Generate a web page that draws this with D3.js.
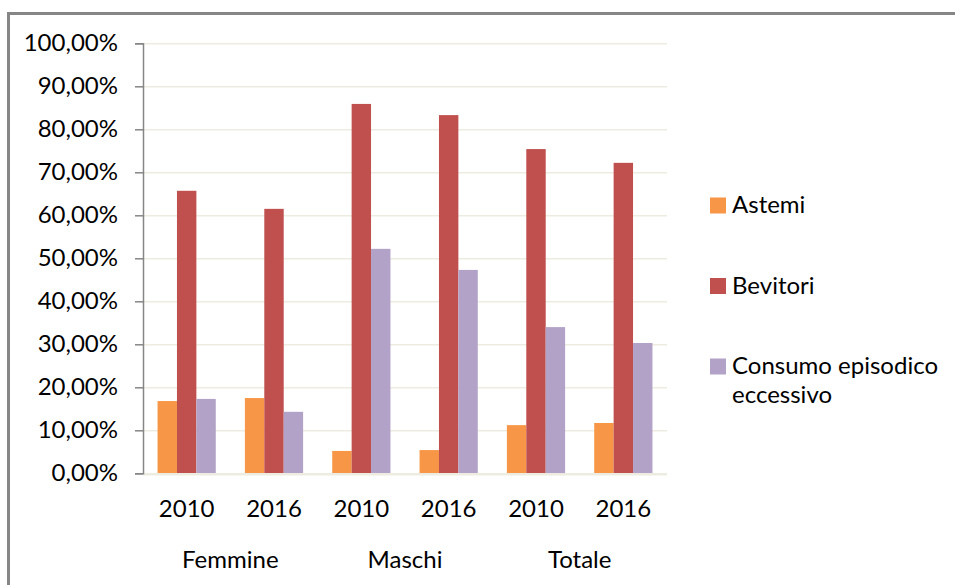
<!DOCTYPE html>
<html>
<head>
<meta charset="utf-8">
<script src="https://cdn.jsdelivr.net/npm/d3@7"></script>
<style>
    body { margin: 0; background: #fff; }
    svg { display: block; }
    text { font-family: Lato, "Open Sans", sans-serif; fill: #000; }
</style>
</head>
<body>
<svg id="chart" width="955" height="585"></svg>
<script>
const years = ["2010", "2016", "2010", "2016", "2010", "2016"],
    groups = ["Femmine", "Maschi", "Totale"],
    seriesNames = ["Astemi", "Bevitori", "Consumo episodico eccessivo"],
    astemi = [16.8, 17.5, 5.2, 5.4, 11.2, 11.7],
    bevitori = [65.7, 61.5, 85.9, 83.3, 75.4, 72.2],
    consumo = [17.3, 14.3, 52.2, 47.3, 34.0, 30.3],
    yTicks = [0, 10, 20, 30, 40, 50, 60, 70, 80, 90, 100]

const colors = ["#f79646", "#c0504d", "#b3a2c7"],
    values = [astemi, bevitori, consumo]

let svg = d3.select("#chart"),
    plotLeft = 143, plotRight = 667, plotTop = 43.3, plotBottom = 473.3,
    fontSize = 24,
    itItalian = d3.formatLocale({decimal: ",", thousands: ".", grouping: [3], currency: ["", "€"]}),
    percent = itItalian.format(".2f")

// frame, only top and left sides are visible
svg.append("rect")
    .attr("x", 8.5)
    .attr("y", 13.5)
    .attr("width", 1000)
    .attr("height", 1000)
    .attr("fill", "none")
    .attr("stroke", "#868686")
    .attr("stroke-width", 3)

let x = d3.scaleBand()
        .domain(d3.range(years.length))
        .range([plotLeft, plotRight]),
    xSeries = d3.scaleBand()
        .domain(d3.range(seriesNames.length))
        .range([0, x.bandwidth()])
        .paddingOuter(0.75),
    y = d3.scaleLinear()
        .domain([0, 100])
        .range([plotBottom, plotTop])

// grid lines
svg.append("g")
    .attr("transform", `translate(${plotLeft},0)`)
    .call(d3.axisLeft(y).tickValues(yTicks.slice(1)).tickSize(-(plotRight - plotLeft)).tickFormat(""))
    .call(g => g.select(".domain").remove())
    .call(g => g.selectAll("line").attr("stroke", "#eeece1").attr("stroke-width", 1.4))

// bars
values.forEach(function(series, s) {
    svg.append("g")
        .attr("fill", colors[s])
        .selectAll("rect")
        .data(series)
        .join("rect")
        .attr("x", (d, i) => x(i) + xSeries(s))
        .attr("y", d => y(d))
        .attr("width", xSeries.bandwidth())
        .attr("height", d => y(0) - y(d))
})

// base line
svg.append("line")
    .attr("x1", plotLeft)
    .attr("x2", plotRight)
    .attr("y1", y(0) + 1)
    .attr("y2", y(0) + 1)
    .attr("stroke", "#eeece1")
    .attr("stroke-width", 2.5)

// y axis
svg.append("g")
    .attr("transform", `translate(${plotLeft},0)`)
    .call(d3.axisLeft(y).tickValues(yTicks).tickSize(8).tickPadding(17).tickFormat(d => percent(d) + "%"))
    .call(g => g.selectAll("line, path").attr("stroke", "#868686").attr("stroke-width", 1.5))
    .call(g => g.selectAll("text")
        .attr("font-family", "Lato, sans-serif")
        .attr("font-size", fontSize)
        .attr("fill", "#000"))

// x axis labels
svg.append("g")
    .selectAll("text")
    .data(years)
    .join("text")
    .attr("x", (d, i) => x(i) + x.bandwidth() / 2)
    .attr("y", 517)
    .attr("text-anchor", "middle")
    .attr("font-size", fontSize)
    .text(d => d)

svg.append("g")
    .selectAll("text")
    .data(groups)
    .join("text")
    .attr("x", (d, i) => x(i * 2) + x.bandwidth())
    .attr("y", 568)
    .attr("text-anchor", "middle")
    .attr("font-size", fontSize)
    .text(d => d)

// legend
let legend = svg.append("g")
        .attr("transform", "translate(710,0)"),
    legendY = d3.scalePoint()
        .domain(d3.range(seriesNames.length))
        .range([213, 374])

seriesNames.forEach(function(name, s) {
    let item = legend.append("g")
            .attr("transform", `translate(0,${legendY(s)})`),
        words = name === "Consumo episodico eccessivo" ? ["Consumo episodico", "eccessivo"] : [name]

    item.append("rect")
        .attr("x", 0)
        .attr("y", -15.5)
        .attr("width", 16)
        .attr("height", 16)
        .attr("fill", colors[s])

    item.append("text")
        .attr("x", 22)
        .attr("font-size", fontSize)
        .selectAll("tspan")
        .data(words)
        .join("tspan")
        .attr("x", 22)
        .attr("dy", (d, i) => i === 0 ? 0 : 29)
        .text(d => d)
})
</script>
</body>
</html>
